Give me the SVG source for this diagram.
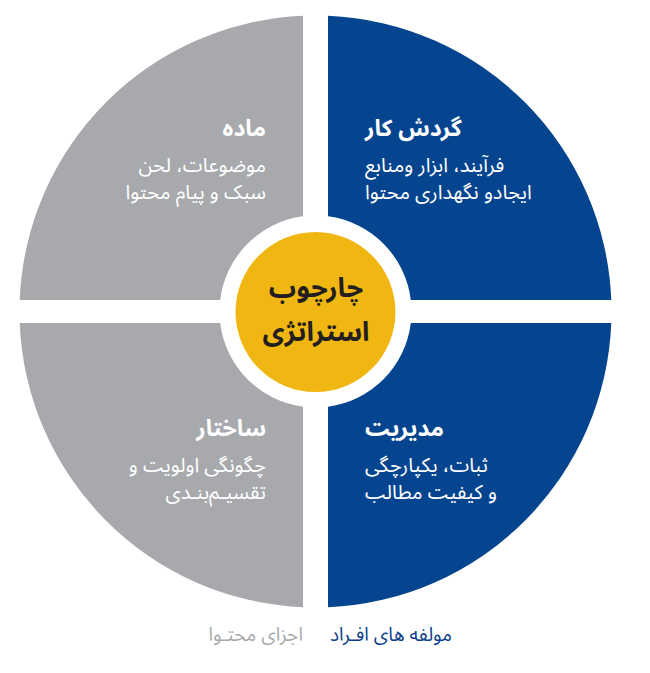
<svg xmlns="http://www.w3.org/2000/svg" width="650" height="673" viewBox="0 0 650 673">
<style>
.gray{fill:#A7A9AC}
.blue{fill:#05458F}
.t{font-family:"Noto Sans Arabic","DejaVu Sans",sans-serif;direction:rtl;unicode-bidi:embed}
.title{font-size:23px;font-weight:bold;fill:#FFFFFF}
.body{font-size:20px;fill:#FFFFFF}
.center{font-size:27px;font-weight:bold;fill:#231F20}
.lbl{font-size:19px}
</style>
<rect width="650" height="673" fill="#FFFFFF"/>
<g id="node-madeh">
<path class="gray" d="M 19.72,300 A 296 296 0 0 1 303,15.76 L 303,216.32 A 96 96 0 0 0 220.19,300 Z"/>
<text class="t title" x="266" y="136" text-anchor="start">ماده</text>
<text class="t body" x="266" y="172" text-anchor="start">موضوعات، لحن</text>
<text class="t body" x="266" y="199" text-anchor="start">سبک و پیام محتوا</text>
</g>
<g id="node-gardesh-kar">
<path class="blue" d="M 328,15.76 A 296 296 0 0 1 611.28,300 L 410.81,300 A 96 96 0 0 0 328,216.32 Z"/>
<text class="t title" x="365" y="136" text-anchor="end">گردش کار</text>
<text class="t body" x="365" y="172" text-anchor="end">فرآیند، ابزار ومنابع</text>
<text class="t body" x="365" y="199" text-anchor="end">ایجادو نگهداری محتوا</text>
</g>
<g id="node-modiriat">
<path class="blue" d="M 611.28,323 A 296 296 0 0 1 328,607.24 L 328,406.68 A 96 96 0 0 0 410.81,323 Z"/>
<text class="t title" x="365" y="436" text-anchor="end">مدیریت</text>
<text class="t body" x="365" y="472" text-anchor="end">ثبات، یکپارچگی</text>
<text class="t body" x="365" y="499" text-anchor="end">و کیفیت مطالب</text>
</g>
<g id="node-sakhtar">
<path class="gray" d="M 303,607.24 A 296 296 0 0 1 19.72,323 L 220.19,323 A 96 96 0 0 0 303,406.68 Z"/>
<text class="t title" x="266" y="436" text-anchor="start">ساختار</text>
<text class="t body" x="266" y="472" text-anchor="start">چگونگی اولویت و</text>
<text class="t body" x="266" y="499" text-anchor="start">تقسیـم‌بنـدی</text>
</g>
<g id="node-center">
<circle cx="315.5" cy="312" r="80" fill="#F0B713"/>
<text class="t center" x="316" y="297" text-anchor="middle">چارچوب</text>
<text class="t center" x="316" y="341" text-anchor="middle">استراتژی</text>
</g>
<g id="connectors"></g>
<g id="legend">
<text class="t lbl" x="330" y="641" text-anchor="end" fill="#0B3F8A">مولفه های افـراد</text>
<text class="t lbl" x="303" y="641" text-anchor="start" fill="#A7A9AC">اجزای محتـوا</text>
</g>
</svg>
